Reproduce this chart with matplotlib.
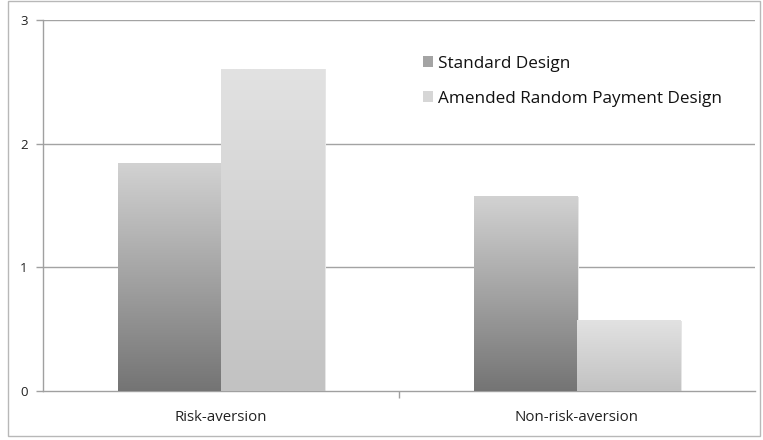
import numpy as np
import matplotlib
matplotlib.use("Agg")
import matplotlib.pyplot as plt
from matplotlib.patches import Patch, Rectangle
from matplotlib.colors import LinearSegmentedColormap

plt.rcParams['font.family'] = ['Open Sans', 'DejaVu Sans']

categories = ["Risk-aversion", "Non-risk-aversion"]
series_names = ["Standard Design", "Amended Random Payment Design"]
standard = [1.84, 1.57]
amended = [2.60, 0.57]
y_ticks = [0, 1, 2, 3]

# bottom -> top gradient colours for each series
grad_colors = [("#747474", "#d2d2d2"), ("#c2c2c2", "#e2e2e2")]

fig = plt.figure(figsize=(7.63, 4.40), dpi=100)
ax = fig.add_axes([43 / 763, 49 / 440, 712 / 763, 371 / 440])

x = np.arange(len(categories))
width = 0.29
series = [standard, amended]
offsets = [-width / 2, width / 2]

for vals, off, (c0, c1) in zip(series, offsets, grad_colors):
    bars = ax.bar(x + off, vals, width, color="none", edgecolor="none", zorder=3)
    cmap = LinearSegmentedColormap.from_list("g", [c0, c1])
    for b in bars:
        x0, w, h = b.get_x(), b.get_width(), b.get_height()
        # soft shadow on the right edge
        ax.add_patch(Rectangle((x0 + w, 0), 0.006, h, color="#e6e6e6", zorder=2.5, lw=0))
        grad = np.linspace(0, 1, 256).reshape(-1, 1)
        ax.imshow(grad, cmap=cmap, origin="lower", aspect="auto",
                  extent=[x0, x0 + w, 0, h], zorder=3, interpolation="bilinear")

ax.set_xlim(-0.5, 1.5)
ax.set_ylim(0, 3)
ax.set_yticks(y_ticks)
ax.set_yticklabels([str(t) for t in y_ticks], fontsize=9.5, color="#222222")
ax.set_xticks(x)
ax.set_xticklabels(categories, fontsize=10.8, color="#222222")
ax.tick_params(axis="x", length=0, pad=14)
ax.tick_params(axis="y", length=5, color="#a0a0a0", pad=6, width=1)
ax.set_xticks([0.5], minor=True)
ax.tick_params(axis="x", which="minor", length=5, color="#a0a0a0", width=1)

for t in [1, 2, 3]:
    ax.axhline(t, color="#a3a3a3", lw=1, zorder=1)

for side in ["top", "right"]:
    ax.spines[side].set_visible(False)
for side in ["left", "bottom"]:
    ax.spines[side].set_color("#a0a0a0")
    ax.spines[side].set_linewidth(1)

handles = [Patch(facecolor="#a4a4a4", edgecolor="none"),
           Patch(facecolor="#d6d6d6", edgecolor="none")]
leg = ax.legend(handles, series_names, loc="upper left",
                bbox_to_anchor=(0.512, 0.945), frameon=False, fontsize=12.3,
                handlelength=0.6, handleheight=0.6, handletextpad=0.3,
                labelspacing=1.12)
for txt in leg.get_texts():
    txt.set_color("#111111")

# outer chart border
fig.patches.append(Rectangle((8 / 763, 4 / 440), 752 / 763, 435 / 440,
                             transform=fig.transFigure, fill=False,
                             edgecolor="#b8b8b8", lw=1))

fig.savefig("out.png", dpi=100)
